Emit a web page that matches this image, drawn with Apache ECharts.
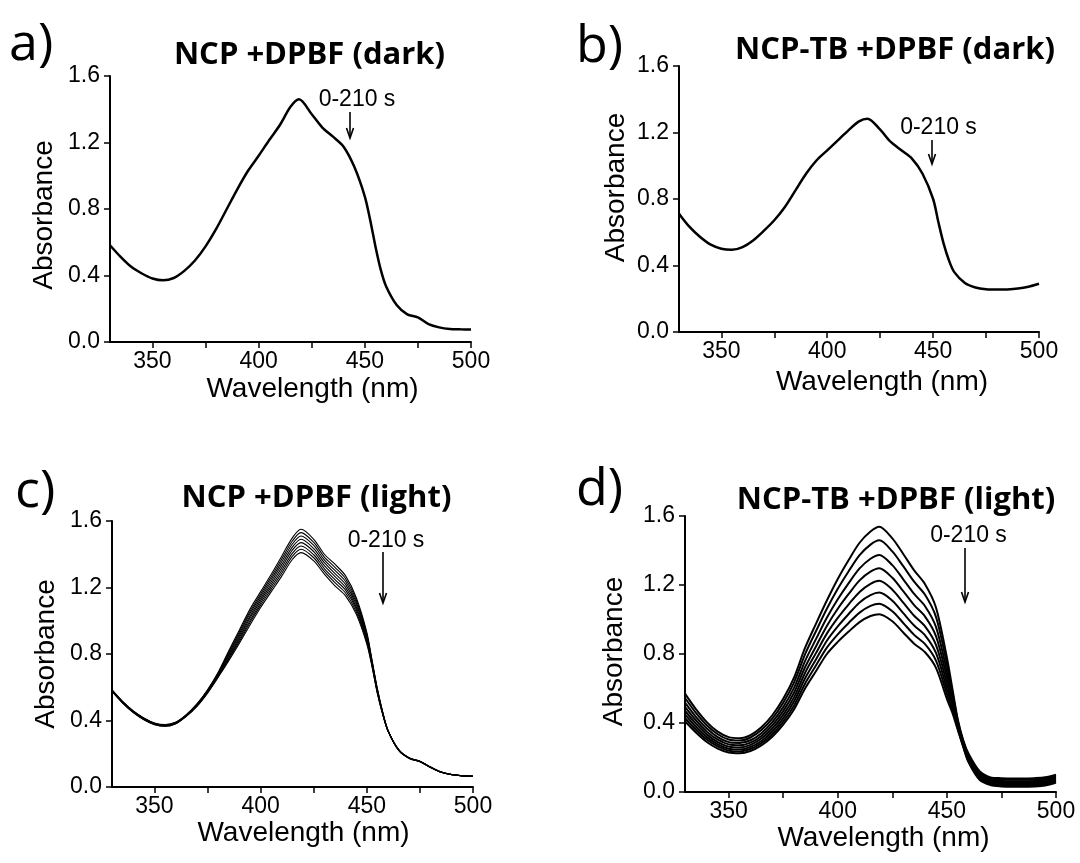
<!DOCTYPE html>
<html><head><meta charset="utf-8">
<script src="https://cdn.jsdelivr.net/npm/echarts@6/dist/echarts.min.js"></script>
<style>html,body{margin:0;padding:0;background:#fff}#c{width:1080px;height:863px}</style>
</head><body><div id="c"></div>
<script>
// ---- data (wavelength in nm, absorbance) ----
const wavelength = [330,335,340,345,350,355,360,365,370,375,380,385,390,395,400,405,410,415,419,425,430,435,440,445,450,452.5,455,457.5,460,465,470,475,480,485,490,495,500];
const xTicks = [350,375,400,425,450,475,500];
const xLabels = [350,400,450,500];

// a) NCP + DPBF (dark)
const absNcpDark = [.582,.512,.452,.412,.382,.371,.385,.428,.49,.575,.68,.80,.92,1.03,1.12,1.215,1.305,1.415,1.46,1.37,1.29,1.235,1.175,1.055,.875,.735,.575,.435,.335,.222,.166,.148,.108,.088,.078,.076,.075];
// b) NCP-TB + DPBF (dark)
const absNcpTbDark = [.712,.632,.571,.525,.501,.495,.511,.551,.608,.672,.752,.852,.952,1.033,1.093,1.153,1.213,1.267,1.283,1.217,1.143,1.093,1.043,.952,.80,.66,.53,.43,.36,.295,.268,.257,.255,.256,.261,.272,.29];

// c) NCP + DPBF (light), 0 ... 210 s
const cLight0 = [.585,.515,.458,.415,.385,.375,.39,.435,.5,.585,.69,.82,.945,1.07,1.175,1.28,1.39,1.5,1.55,1.49,1.4,1.34,1.27,1.14,.93,.76,.59,.45,.34,.225,.175,.155,.12,.09,.075,.068,.065];
const cLight1 = [.584,.514,.457,.414,.384,.374,.389,.434,.498,.582,.686,.811,.934,1.056,1.161,1.265,1.373,1.481,1.53,1.471,1.383,1.321,1.253,1.126,.92,.754,.586,.448,.339,.224,.175,.155,.12,.09,.075,.068,.065];
const cLight2 = [.582,.512,.455,.412,.382,.372,.387,.432,.496,.579,.681,.803,.922,1.043,1.148,1.25,1.356,1.463,1.51,1.453,1.366,1.303,1.236,1.111,.91,.749,.581,.446,.339,.224,.174,.154,.12,.09,.075,.068,.065];
const cLight3 = [.581,.511,.454,.411,.381,.371,.386,.431,.494,.576,.677,.794,.911,1.029,1.134,1.235,1.339,1.444,1.49,1.434,1.349,1.284,1.219,1.097,.9,.743,.577,.444,.338,.223,.174,.154,.119,.09,.075,.068,.065];
const cLight4 = [.579,.509,.452,.409,.379,.369,.384,.429,.491,.574,.673,.786,.899,1.016,1.121,1.22,1.321,1.426,1.47,1.416,1.331,1.266,1.201,1.083,.89,.737,.573,.441,.337,.222,.173,.153,.119,.089,.074,.067,.064];
const cLight5 = [.578,.508,.451,.408,.378,.368,.383,.428,.489,.571,.669,.777,.888,1.002,1.107,1.205,1.304,1.407,1.45,1.397,1.314,1.247,1.184,1.069,.88,.731,.569,.439,.336,.221,.173,.153,.119,.089,.074,.067,.064];
const cLight6 = [.576,.506,.449,.406,.376,.366,.381,.426,.487,.568,.664,.769,.876,.989,1.094,1.19,1.287,1.389,1.43,1.379,1.297,1.229,1.167,1.054,.87,.726,.564,.437,.336,.221,.172,.152,.118,.089,.074,.067,.064];
const cLight7 = [.575,.505,.448,.405,.375,.365,.38,.425,.485,.565,.66,.76,.865,.975,1.08,1.175,1.27,1.37,1.41,1.36,1.28,1.21,1.15,1.04,.86,.72,.56,.435,.335,.22,.172,.152,.118,.089,.074,.067,.064];

// d) NCP-TB + DPBF (light), 0 ... 210 s
const dLight0 = [.57,.48,.405,.35,.318,.312,.33,.375,.445,.54,.665,.835,.975,1.11,1.235,1.345,1.445,1.51,1.538,1.47,1.38,1.285,1.205,1.07,.78,.6,.42,.3,.22,.12,.085,.08,.078,.078,.08,.085,.1];
const dLight1 = [.545,.459,.387,.335,.304,.298,.316,.359,.425,.517,.636,.798,.932,1.062,1.178,1.28,1.373,1.434,1.459,1.395,1.309,1.219,1.143,1.015,.743,.578,.411,.294,.212,.112,.078,.073,.071,.071,.073,.078,.093];
const dLight2 = [.518,.436,.368,.318,.289,.284,.3,.341,.405,.492,.605,.759,.886,1.01,1.117,1.211,1.296,1.352,1.374,1.315,1.233,1.148,1.077,.957,.702,.555,.401,.287,.204,.104,.07,.064,.062,.062,.064,.07,.085];
const dLight3 = [.494,.416,.35,.303,.276,.271,.286,.325,.386,.469,.577,.723,.844,.963,1.062,1.148,1.227,1.277,1.297,1.242,1.164,1.083,1.017,.904,.666,.534,.392,.281,.196,.096,.064,.057,.055,.055,.057,.063,.079];
const dLight4 = [.471,.396,.334,.289,.263,.258,.273,.31,.368,.447,.55,.69,.805,.918,1.009,1.088,1.16,1.207,1.224,1.173,1.098,1.022,.96,.853,.631,.513,.383,.275,.189,.089,.057,.05,.048,.048,.05,.056,.072];
const dLight5 = [.45,.378,.318,.276,.251,.246,.261,.296,.351,.427,.526,.658,.768,.877,.96,1.032,1.099,1.141,1.156,1.109,1.037,.965,.908,.806,.599,.495,.375,.27,.182,.082,.051,.044,.042,.042,.044,.05,.066];
const dLight6 = [.429,.361,.304,.264,.24,.235,.249,.283,.335,.408,.502,.628,.733,.837,.914,.98,1.04,1.079,1.092,1.048,.98,.911,.857,.762,.569,.477,.367,.265,.176,.076,.045,.038,.036,.036,.038,.044,.06];
const dLight7 = [.41,.345,.29,.252,.229,.225,.238,.27,.32,.39,.48,.6,.7,.8,.87,.93,.985,1.02,1.031,.99,.925,.86,.81,.72,.54,.46,.36,.26,.17,.07,.04,.032,.03,.03,.032,.038,.055];

const titles = ['NCP +DPBF (dark)','NCP-TB +DPBF (dark)','NCP +DPBF (light)','NCP-TB +DPBF (light)'];
const panelLetters = ['a)','b)','c)','d)'];
const timeLabel = '0-210 s';

// ---- build chart ----
const SANS = '"Liberation Sans", Arial, sans-serif';
const pairs = vals => wavelength.map((w, i) => [w, vals[i]]);

const grids = [
  {left:110, top:76, width:361, height:266},
  {left:679, top:66, width:360, height:266},
  {left:112, top:521, width:361, height:266},
  {left:685, top:516, width:371, height:276}
];
const xNameGap = [33, 36, 26, 26];
const xNameShift = [22, 23, 11, 13];
const yNameGap = [52, 49, 52, 57];
const yNamePad = [[0,12,0,0],[0,0,0,23],[0,0,0,0],[0,0,0,5]];

const xAxes = grids.map((g, i) => ({
  type:'value', gridIndex:i, min:330, max:500,
  name:'Wavelength (nm)', nameLocation:'middle', nameGap:xNameGap[i],
  nameTextStyle:{fontSize:28, color:'#000', fontFamily:SANS, padding:[0,0,0,2*xNameShift[i]]},
  axisLine:{show:true, onZero:false, lineStyle:{color:'#000', width:2}},
  axisTick:{show:true, inside:false, length:6, lineStyle:{color:'#000', width:1.5}, customValues:xTicks},
  axisLabel:{fontSize:23, color:'#000', margin:8, fontFamily:SANS, customValues:xLabels},
  splitLine:{show:false}
}));
const yAxes = grids.map((g, i) => ({
  type:'value', gridIndex:i, min:0, max:1.6, interval:0.4,
  name:'Absorbance', nameLocation:'middle', nameGap:yNameGap[i],
  nameTextStyle:{fontSize:28, color:'#000', fontFamily:SANS, padding:yNamePad[i]},
  axisLine:{show:true, onZero:false, lineStyle:{color:'#000', width:2}},
  axisTick:{show:true, inside:false, length:6, lineStyle:{color:'#000', width:1.5}},
  axisLabel:{fontSize:23, color:'#000', margin:10, fontFamily:SANS, formatter:v => v.toFixed(1)},
  splitLine:{show:false}
}));

function lineSeries(idx, vals, width) {
  return {type:'line', xAxisIndex:idx, yAxisIndex:idx, data:pairs(vals), showSymbol:false,
    smooth:0.3, lineStyle:{color:'#000', width:width}, silent:true};
}
const series = [
  lineSeries(0, absNcpDark, 2.5),
  lineSeries(1, absNcpTbDark, 2.5),
  ...[cLight0,cLight1,cLight2,cLight3,cLight4,cLight5,cLight6,cLight7].map(v => lineSeries(2, v, 1.1)),
  ...[dLight0,dLight1,dLight2,dLight3,dLight4,dLight5,dLight6,dLight7].map(v => lineSeries(3, v, 2))
];

// annotation layout (pixel positions of decorations)
const letterPos = [[9,45],[576,47],[15,492],[576,490]];
const titlePos = [[309.5,55],[895,50],[316.5,498],[896,500]];
const notePos = [[357,100],[938.5,128],[386,541],[968.5,536]];
const arrowPos = [[350,112,138],[932,140,164],[383,552,603],[965,548,602]];

const graphic = [];
for (let i = 0; i < 4; i++) {
  graphic.push({type:'text', x:letterPos[i][0], y:letterPos[i][1], silent:true,
    style:{text:panelLetters[i], font:'52px "Open Sans", sans-serif', fill:'#000', align:'left', verticalAlign:'middle'}});
  graphic.push({type:'text', x:titlePos[i][0], y:titlePos[i][1], silent:true,
    style:{text:titles[i], font:'bold 31px "Open Sans", sans-serif', fill:'#000', align:'center', verticalAlign:'middle'}});
  graphic.push({type:'text', x:notePos[i][0], y:notePos[i][1], silent:true,
    style:{text:timeLabel, font:'23px "Liberation Sans", Arial, sans-serif', fill:'#000', align:'center', verticalAlign:'middle'}});
  const [ax, ay1, ay2] = arrowPos[i];
  graphic.push({type:'line', silent:true, shape:{x1:ax, y1:ay1, x2:ax, y2:ay2-1}, style:{stroke:'#000', lineWidth:1.6}});
  graphic.push({type:'polyline', silent:true, shape:{points:[[ax-3.5, ay2-10],[ax, ay2],[ax+3.5, ay2-10]]}, style:{stroke:'#000', lineWidth:1.6, fill:null}});
}

const chart = echarts.init(document.getElementById('c'), null, {renderer:'canvas'});
chart.setOption({
  animation:false,
  backgroundColor:'#fff',
  grid:grids,
  xAxis:xAxes,
  yAxis:yAxes,
  series:series,
  graphic:graphic
});
</script>
</body></html>
